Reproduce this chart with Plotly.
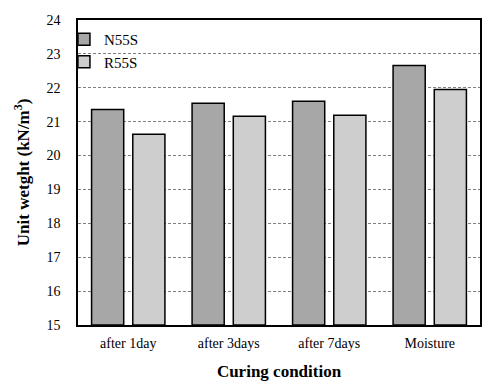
import plotly.graph_objects as go

categories = ["after 1day", "after 3days", "after 7days", "Moisture"]
n55s = [21.36, 21.54, 21.60, 22.66]
r55s = [20.63, 21.16, 21.19, 21.95]
series_names = ["N55S", "R55S"]
y_ticks = list(range(15, 25))
y_title = "<b>Unit wetght (kN/m<sup>3</sup>)</b>"

font = "Liberation Serif"

fig = go.Figure()
fig.add_trace(go.Bar(
    x=categories, y=[v - 15 for v in n55s], base=15, name=series_names[0],
    marker=dict(color="white", line=dict(color="black", width=1.5),
                pattern=dict(shape=".", fgcolor="black", bgcolor="white", size=2, solidity=0.65)),
))
fig.add_trace(go.Bar(
    x=categories, y=[v - 15 for v in r55s], base=15, name=series_names[1],
    marker=dict(color="white", line=dict(color="black", width=1.5),
                pattern=dict(shape=".", fgcolor="black", bgcolor="white", size=2, solidity=0.4)),
))

fig.update_layout(
    width=487, height=380,
    margin=dict(l=70, r=15, t=12, b=63, autoexpand=False),
    paper_bgcolor="white", plot_bgcolor="white",
    barmode="group", bargap=0.18, bargroupgap=0.22,
    font=dict(family=font, size=14, color="black"),
    showlegend=True,
    legend=dict(x=-0.035, y=0.99, xanchor="left", yanchor="top",
                bgcolor="rgba(0,0,0,0)", font=dict(size=15, family=font),
                itemwidth=30, tracegroupgap=0),
    annotations=[dict(
        text=y_title, textangle=-90, xref="paper", yref="paper",
        x=-0.14, y=0.5, xanchor="center", yanchor="middle", showarrow=False,
        font=dict(size=17, family=font),
    )],
)
fig.update_xaxes(
    automargin=False,
    showline=True, linecolor="black", linewidth=1.5, mirror=True,
    ticks="", ticklabelstandoff=4, tickfont=dict(size=14, family=font),
    title=dict(text="<b>Curing condition</b>", font=dict(size=17, family=font), standoff=16),
)
fig.update_yaxes(
    automargin=False,
    range=[15, 24], tickvals=y_ticks,
    showline=True, linecolor="black", linewidth=1.5, mirror=True,
    showgrid=True, gridcolor="#808080", griddash="3px,2px", gridwidth=1,
    ticks="outside", ticklen=13, tickcolor="rgba(0,0,0,0)", tickfont=dict(size=14, family=font),
)

fig.write_html("out.html")
